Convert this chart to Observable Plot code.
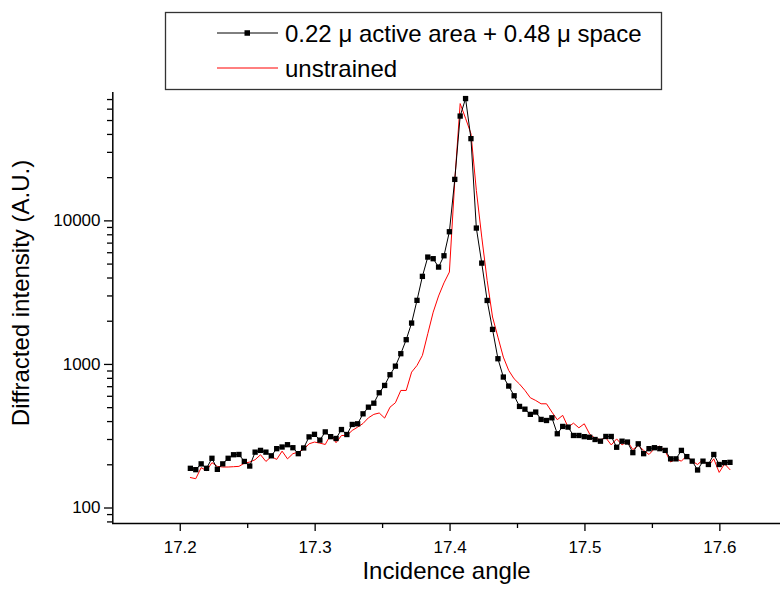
<!DOCTYPE html>
<html>
<head>
<meta charset="utf-8">
<script src="https://cdn.jsdelivr.net/npm/d3@7"></script>
<script src="https://cdn.jsdelivr.net/npm/@observablehq/plot@0.6"></script>
<style>
  html, body { margin: 0; padding: 0; background: #fff; }
  #wrap { position: relative; width: 780px; height: 594px; overflow: hidden; }
  #legend { position: absolute; left: 0; top: 0; }
</style>
</head>
<body>
<div id="wrap"></div>
<script>
// Incidence angle (deg) of each sample
const angles = [
  17.2075, 17.2115, 17.2155, 17.2195, 17.2235, 17.2275, 17.2315, 17.2355, 17.2395, 17.2435,
  17.2475, 17.2515, 17.2555, 17.2595, 17.2635, 17.2675, 17.2715, 17.2755, 17.2795, 17.2835,
  17.2875, 17.2915, 17.2955, 17.2995, 17.3035, 17.3075, 17.3115, 17.3155, 17.3195, 17.3235,
  17.3275, 17.3315, 17.3355, 17.3395, 17.3435, 17.3475, 17.3515, 17.3555, 17.3595, 17.3635,
  17.3675, 17.3715, 17.3755, 17.3795, 17.3835, 17.3875, 17.3915, 17.3955, 17.3995, 17.4035,
  17.4075, 17.4115, 17.4155, 17.4195, 17.4235, 17.4275, 17.4315, 17.4355, 17.4395, 17.4435,
  17.4475, 17.4515, 17.4555, 17.4595, 17.4635, 17.4675, 17.4715, 17.4755, 17.4795, 17.4835,
  17.4875, 17.4915, 17.4955, 17.4995, 17.5035, 17.5075, 17.5115, 17.5155, 17.5195, 17.5235,
  17.5275, 17.5315, 17.5355, 17.5395, 17.5435, 17.5475, 17.5515, 17.5555, 17.5595, 17.5635,
  17.5675, 17.5715, 17.5755, 17.5795, 17.5835, 17.5875, 17.5915, 17.5955, 17.5995, 17.6035,
  17.6075
];
// 0.22 µ active area + 0.48 µ space
const strained = [
  189, 185, 203, 189, 222, 186, 203, 222, 235, 236,
  211, 196, 245, 252, 245, 231, 259, 266, 276, 263,
  239, 262, 313, 326, 297, 339, 314, 305, 352, 325,
  382, 386, 453, 504, 537, 635, 714, 848, 973, 1188,
  1487, 1942, 2795, 4106, 5596, 5452, 4766, 5715, 8400, 19450,
  53700, 71100, 37400, 8910, 5080, 2790, 1754, 1096, 817, 707,
  605, 510, 488, 449, 466, 414, 407, 425, 329, 370,
  366, 320, 320, 314, 311, 300, 292, 315, 315, 265,
  292, 288, 243, 280, 239, 259, 263, 259, 252, 220,
  220, 252, 228, 212, 184, 212, 201, 236, 201, 207,
  208
];
// unstrained
const unstrained = [
  163, 160, 191, 182, 207, 195, 193, 193, 194, 195,
  205, 209, 217, 235, 211, 228, 218, 249, 220, 239,
  245, 256, 280, 288, 283, 277, 325, 285, 320, 320,
  347, 366, 388, 425, 449, 459, 423, 504, 541, 659,
  659, 884, 984, 1156, 1637, 2313, 3000, 3700, 4400, 19000,
  65600, 51800, 40500, 16300, 7710, 3850, 2140, 1549, 1125, 908,
  794, 730, 660, 586, 561, 532, 532, 466, 412, 442,
  366, 390, 362, 386, 327, 306, 299, 308, 275, 303,
  275, 292, 255, 273, 252, 236, 259, 270, 249, 209,
  220, 212, 232, 212, 201, 217, 195, 220, 177, 203,
  185
];
const xMajor = [17.2, 17.3, 17.4, 17.5, 17.6];
const xMinor = [17.25, 17.35, 17.45, 17.55];
const yMajor = [100, 1000, 10000];
const yMinor = [80, 90, 200, 300, 400, 500, 600, 700, 800, 900,
  2000, 3000, 4000, 5000, 6000, 7000, 8000, 9000,
  20000, 30000, 40000, 50000, 60000, 70000];
const seriesNames = ["0.22 \u03bc active area + 0.48 \u03bc space", "unstrained"];
const seriesColors = ["#000000", "#ff0000"];

const strainedData = angles.map((a, i) => ({angle: a, value: strained[i]}));
const unstrainedData = angles.map((a, i) => ({angle: a, value: unstrained[i]}));

const font = "'Liberation Sans', Arial, Helvetica, sans-serif";

const chart = Plot.plot({
  width: 780,
  height: 594,
  marginLeft: 112,
  marginRight: 0,
  marginTop: 92,
  marginBottom: 71,
  style: {fontFamily: font, background: "#fff", color: "#000", overflow: "hidden"},
  x: {domain: [17.15, 17.65], range: [112.3, 786.8]},
  y: {type: "log", domain: [78, 78000], range: [523, 92.3]},
  marks: [
    Plot.axisX({ticks: xMajor, tickSize: 8, tickPadding: 9, tickFormat: d3.format(".1f"), fontSize: 17, label: null, strokeWidth: 1.3}),
    Plot.axisX({ticks: xMinor, tickSize: 5, tickFormat: () => "", label: null, strokeWidth: 1.3}),
    Plot.axisY({ticks: yMajor, tickSize: 8, tickPadding: 4, tickFormat: d3.format("d"), fontSize: 17, label: null, strokeWidth: 1.3}),
    Plot.axisY({ticks: yMinor, tickSize: 5, tickFormat: () => "", label: null, strokeWidth: 1.3}),
    Plot.ruleY([78], {stroke: "#000", strokeWidth: 1.5}),
    Plot.ruleX([17.15], {stroke: "#000", strokeWidth: 1.5}),
    Plot.line(unstrainedData, {x: "angle", y: "value", stroke: seriesColors[1], strokeWidth: 1}),
    Plot.line(strainedData, {x: "angle", y: "value", stroke: seriesColors[0], strokeWidth: 1}),
    Plot.dot(strainedData, {x: "angle", y: "value", symbol: "square", r: 3, fill: seriesColors[0], stroke: "none"}),
    Plot.text(["Incidence angle"], {frameAnchor: "bottom", textAnchor: "middle", dy: 55, fontSize: 24, fill: "#000"}),
    Plot.text(["Diffracted intensity (A.U.)"], {frameAnchor: "left", textAnchor: "middle", rotate: -90, dx: -91, dy: -15, fontSize: 24, fill: "#000"})
  ]
});

const wrap = document.getElementById("wrap");
wrap.appendChild(chart);

// Legend box (drawn above the plot area)
const ns = "http://www.w3.org/2000/svg";
const leg = document.createElementNS(ns, "svg");
leg.setAttribute("id", "legend");
leg.setAttribute("width", 780);
leg.setAttribute("height", 100);
function el(tag, attrs, text) {
  const e = document.createElementNS(ns, tag);
  for (const k in attrs) e.setAttribute(k, attrs[k]);
  if (text) e.textContent = text;
  leg.appendChild(e);
  return e;
}
el("rect", {x: 165.5, y: 12.5, width: 496, height: 77, fill: "#fff", stroke: "#333", "stroke-width": 1.3});
const rows = [33, 68];
seriesNames.forEach((name, i) => {
  el("line", {x1: 217, x2: 278, y1: rows[i], y2: rows[i], stroke: seriesColors[i], "stroke-width": 1});
  if (i === 0) el("rect", {x: 244.5, y: rows[i] - 2.75, width: 5.5, height: 5.5, fill: "#000"});
  el("text", {x: 285, y: rows[i], "dominant-baseline": "central", "font-family": font, "font-size": 24, fill: "#000"}, name);
});
wrap.appendChild(leg);
</script>
</body>
</html>
